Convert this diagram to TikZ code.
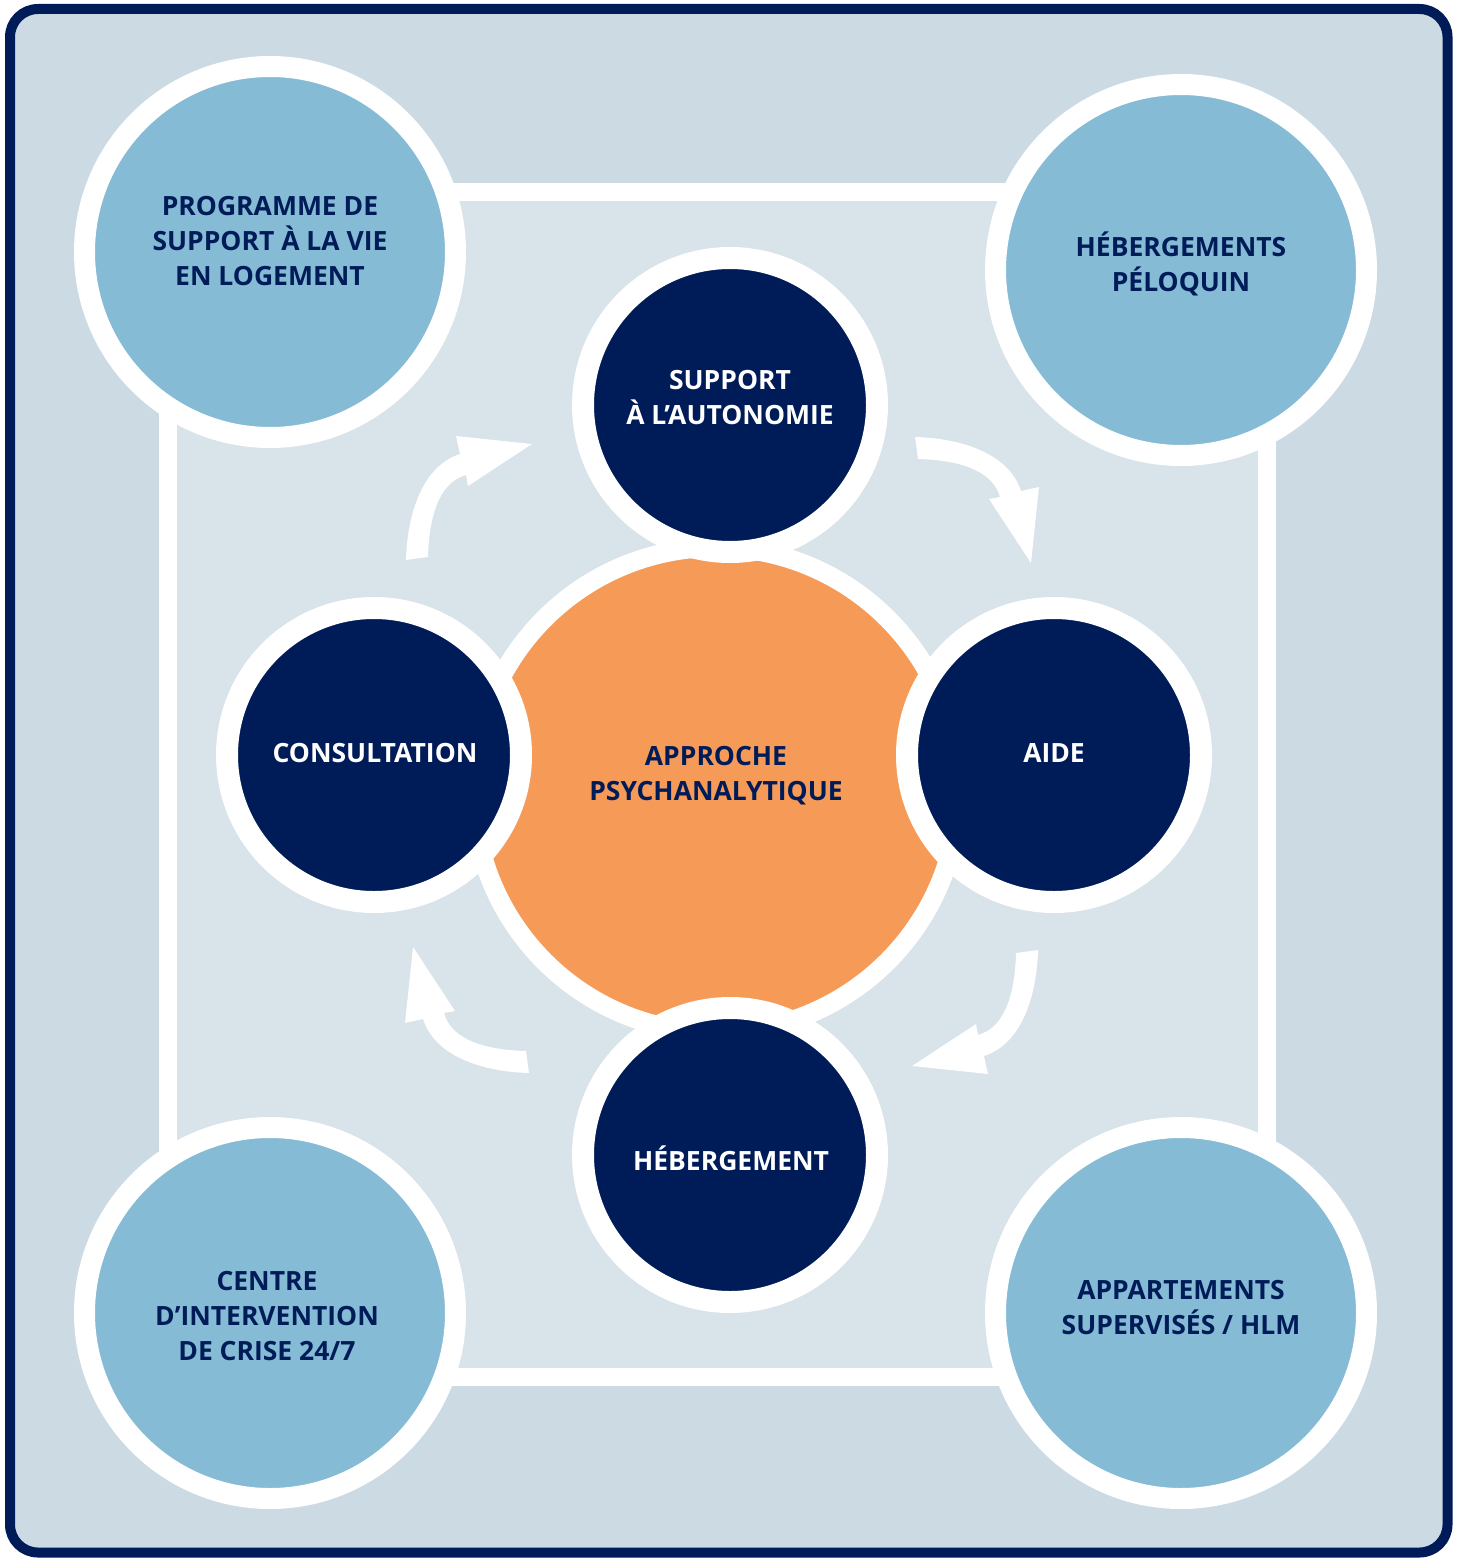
\documentclass[tikz,border=0pt]{standalone}
\usepackage{fontspec}
\setmainfont{Open Sans}
\definecolor{cnavy}{HTML}{001C58}
\definecolor{clight}{HTML}{86BBD6}
\definecolor{corange}{HTML}{F69A58}
\definecolor{cbgout}{HTML}{CBDAE3}
\definecolor{cbgin}{HTML}{D8E3EA}
\tikzset{
  lightcirc/.style={circle, fill=clight, draw=white, line width=21pt, minimum size=371pt, inner sep=0pt},
  darkcirc/.style={circle, fill=cnavy, draw=white, line width=22pt, minimum size=294pt, inner sep=0pt},
  corecirc/.style={circle, fill=corange, draw=white, line width=19pt, minimum size=485pt, inner sep=0pt},
  lbl/.style={font=\fontsize{26.5}{35}\selectfont\bfseries, align=center, inner sep=0pt},
  navylbl/.style={lbl, text=cnavy},
  whitelbl/.style={lbl, text=white},
  cycarrow/.pic={
    \fill[white] (-316,-193) .. controls (-315,-234) and (-302,-286) .. (-262,-299)
      -- (-266,-317) -- (-190,-309) -- (-254,-267) -- (-256,-278)
      .. controls (-285,-270) and (-293,-232) .. (-294,-196) -- cycle;
  }
}
\begin{document}
\begin{tikzpicture}[x=1pt,y=-1pt]
\useasboundingbox (0,0) rectangle (1463,1560);
\fill[white] (0,0) rectangle (1463,1560);
% outer frame
\draw[cnavy, line width=10pt, fill=cbgout, rounded corners=28pt] (10,9) rectangle (1447.5,1552.5);
% inner frame
\draw[white, line width=18pt, fill=cbgin] (168,192) rectangle (1267,1377);
% corner circles
\node[lightcirc] (ptl) at (270,252) {};
\node[lightcirc] (ptr) at (1181,270) {};
\node[lightcirc] (pbl) at (270,1313) {};
\node[lightcirc] (pbr) at (1181,1313) {};
% core
\node[corecirc] (core) at (716,790) {};
% dark circles
\node[darkcirc] (sup) at (730,405) {};
\node[darkcirc] (con) at (374,755) {};
\node[darkcirc] (aid) at (1054,755) {};
\node[darkcirc] (heb) at (730,1155) {};
% cycle arrows
\pic at (722,753) {cycarrow};
\pic[rotate=-90] at (722,753) {cycarrow};
\pic[rotate=180] at (722,757) {cycarrow};
\pic[rotate=90] at (722,757) {cycarrow};
% labels
\node[navylbl] (tptl) at (270,241) {PROGRAMME DE\\SUPPORT À LA VIE\\EN LOGEMENT};
\node[navylbl] (tptr) at (1181,263.5) {HÉBERGEMENTS\\PÉLOQUIN};
\node[navylbl] (tpbl) at (267,1316.5) {CENTRE\\D’INTERVENTION\\DE CRISE 24/7};
\node[navylbl] (tpbr) at (1181,1308) {APPARTEMENTS\\SUPERVISÉS / HLM};
\node[navylbl] (tcore) at (716,775.5) {APPROCHE\\PSYCHANALYTIQUE};
\node[whitelbl] (tsup) at (730,398) {SUPPORT\\À L’AUTONOMIE};
\node[whitelbl] (tcon) at (375,753) {CONSULTATION};
\node[whitelbl] (taid) at (1054,753) {AIDE};
\node[whitelbl] (theb) at (731,1158) {HÉBERGEMENT};
\end{tikzpicture}
\end{document}
